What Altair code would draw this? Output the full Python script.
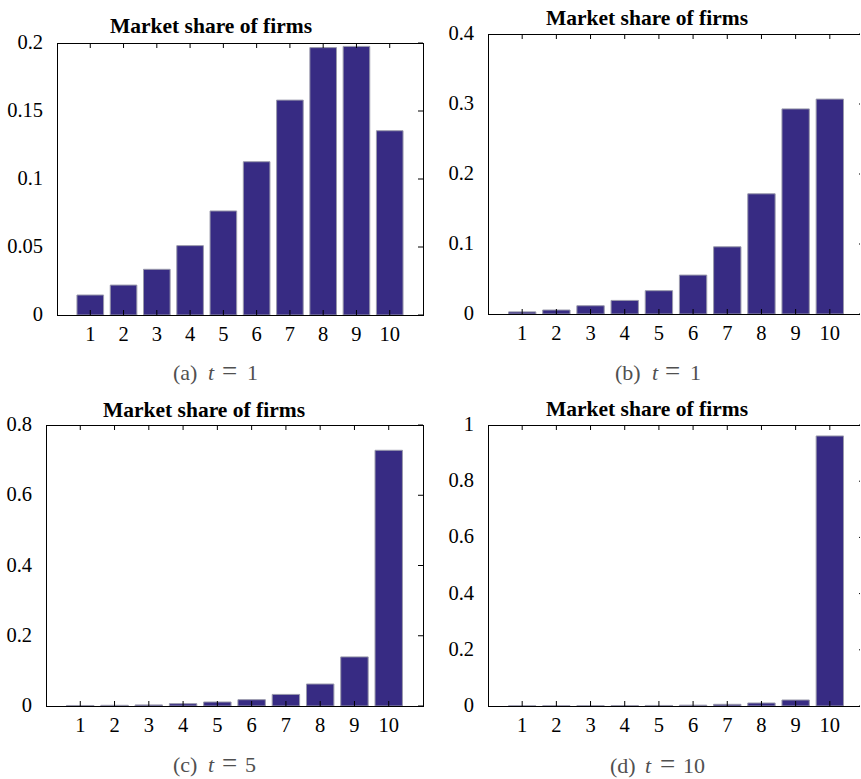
import altair as alt
import pandas as pd

# Firm index on the x axis
firms = list(range(1, 11))

# Market share of each firm in the four snapshots
share_a = [0.0147, 0.022, 0.0336, 0.051, 0.0765, 0.1127, 0.158, 0.1966, 0.1975, 0.1355]
share_b = [0.003, 0.0057, 0.0118, 0.0194, 0.0333, 0.0556, 0.096, 0.1717, 0.293, 0.307]
share_c = [0.0015, 0.002, 0.003, 0.0066, 0.0114, 0.018, 0.033, 0.0626, 0.1398, 0.728]
share_d = [0.0005, 0.0007, 0.001, 0.0015, 0.002, 0.003, 0.006, 0.0107, 0.0214, 0.961]

# y-axis tick values and their labels for each panel
ticks_a = [0, 0.05, 0.1, 0.15, 0.2]
ticks_b = [0, 0.1, 0.2, 0.3, 0.4]
ticks_c = [0, 0.2, 0.4, 0.6, 0.8]
ticks_d = [0, 0.2, 0.4, 0.6, 0.8, 1]
labels_a = ["0", "0.05", "0.1", "0.15", "0.2"]
labels_b = ["0", "0.1", "0.2", "0.3", "0.4"]
labels_c = ["0", "0.2", "0.4", "0.6", "0.8"]
labels_d = ["0", "0.2", "0.4", "0.6", "0.8", "1"]

# sub-caption letters and time stamps
letters = ["(a)", "(b)", "(c)", "(d)"]
t_values = ["1", "1", "5", "10"]

TITLE = "Market share of firms"
SERIF = "Liberation Serif"
BAR_FILL = "#372b83"
BAR_EDGE = "#9a9aac"
CAPTION_GREY = "#505050"
TICK_FONT = 20.5

ONE = alt.Data(values=[{"k": 0}])


def text_layer(s, x, y, size, weight="normal", style="normal", color="black", align="left"):
    return alt.Chart(ONE).mark_text(
        text=s, font=SERIF, fontSize=size, fontWeight=weight, fontStyle=style,
        color=color, align=align, baseline="alphabetic",
    ).encode(x=alt.value(x), y=alt.value(y))


def rule_layer(x, x2, y, y2):
    return alt.Chart(ONE).mark_rule(color="black", strokeWidth=1).encode(
        x=alt.value(x), x2=alt.value(x2), y=alt.value(y), y2=alt.value(y2)
    )


def panel(shares, ymax, yticks, ylabels, letter, tval, box, W, H, title_at, cap_x, cap_base):
    xl, xr, yt, yb = box
    xs = alt.Scale(domain=[0, 11], range=[xl, xr], nice=False, zero=False)
    ys = alt.Scale(domain=[0, ymax], range=[yb, yt], nice=False, zero=False)
    df = pd.DataFrame({"firm": firms, "share": shares})
    tick_df = pd.DataFrame({"v": yticks, "label": ylabels})
    edge = min(xr, W)

    bars = (
        alt.Chart(df)
        .transform_calculate(lo="datum.firm - 0.4", hi="datum.firm + 0.4")
        .mark_bar(fill=BAR_FILL, stroke=BAR_EDGE, strokeWidth=1)
        .encode(
            x=alt.X("lo:Q", scale=xs, axis=None),
            x2="hi:Q",
            y=alt.Y("share:Q", scale=ys, stack=None, axis=None),
            y2=alt.datum(0),
        )
    )

    # tick labels
    x_labels = alt.Chart(df).mark_text(
        font=SERIF, fontSize=TICK_FONT, color="black", align="center", baseline="alphabetic"
    ).encode(
        x=alt.X("firm:Q", scale=xs, axis=None),
        y=alt.value(yb + 25.5),
        text=alt.Text("firm:Q", format="d"),
    )
    y_labels = alt.Chart(tick_df).mark_text(
        font=SERIF, fontSize=TICK_FONT, color="black", align="right", baseline="middle"
    ).encode(
        y=alt.Y("v:Q", scale=ys, axis=None),
        x=alt.value(xl - 14),
        text="label:N",
    )

    # inward tick marks along the bottom and top edges, one per firm
    bottom_ticks = alt.Chart(df).mark_rule(color="black", strokeWidth=1).encode(
        x=alt.X("firm:Q", scale=xs, axis=None),
        y=alt.value(yb - 5), y2=alt.value(yb),
    )
    top_ticks = alt.Chart(df).mark_rule(color="black", strokeWidth=1).encode(
        x=alt.X("firm:Q", scale=xs, axis=None),
        y=alt.value(yt), y2=alt.value(yt + 5),
    )
    # inward tick marks along the right edge
    right_ticks = alt.Chart(tick_df).mark_rule(color="black", strokeWidth=1).encode(
        y=alt.Y("v:Q", scale=ys, axis=None),
        x=alt.value(xr - 5), x2=alt.value(edge),
    )

    # box around the plot area
    frame = [
        rule_layer(xl + 0.5, xl + 0.5, yt, yb + 1),
        rule_layer(xl, edge, yt + 0.5, yt + 0.5),
        rule_layer(xl, edge, yb + 0.5, yb + 0.5),
    ]
    if xr <= W:
        frame.append(rule_layer(xr + 0.5, xr + 0.5, yt, yb + 1))

    title = text_layer(TITLE, title_at[0], title_at[1], 21.5, weight="bold", align="center")
    caption = [
        text_layer(letter, cap_x[0], cap_base, 22, color=CAPTION_GREY),
        text_layer("t", cap_x[1], cap_base, 22, style="italic", color=CAPTION_GREY),
        text_layer("=", cap_x[2], cap_base, 27, color=CAPTION_GREY),
        text_layer(tval, cap_x[3], cap_base, 22, color=CAPTION_GREY),
    ]

    return alt.layer(
        bars, bottom_ticks, top_ticks, right_ticks, *frame,
        x_labels, y_labels, title, *caption
    ).properties(width=W, height=H)


pa = panel(share_a, 0.2, ticks_a, labels_a, letters[0], t_values[0],
           (57, 423, 43, 315), 430, 390, (211, 33), (173, 208, 222, 247), 380)
pb = panel(share_b, 0.4, ticks_b, labels_b, letters[1], t_values[1],
           (58, 434, 34, 314), 430, 390, (217, 25), (185, 222, 235, 260), 380)
pc = panel(share_c, 0.8, ticks_c, labels_c, letters[2], t_values[2],
           (46, 423, 35, 316), 430, 389, (204, 27), (173, 208, 222, 245), 382)
pd_ = panel(share_d, 1.0, ticks_d, labels_d, letters[3], t_values[3],
            (58, 434, 35, 316), 430, 389, (217, 26), (180, 215, 230, 253), 383)

chart = alt.concat(
    pa, pb, pc, pd_, columns=2, spacing=0, align="none", bounds="full",
    padding=0, background="white",
).configure_view(strokeWidth=0, fill="white")

chart.save("out.html", embed_options={"renderer": "svg", "actions": False})
